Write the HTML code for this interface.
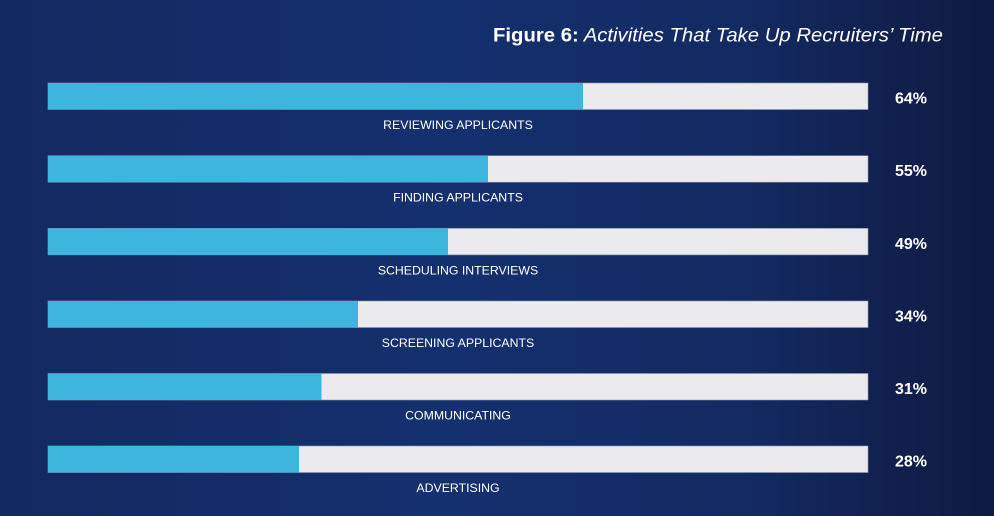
<!DOCTYPE html>
<html>
<head>
<meta charset="utf-8">
<style>
html,body{margin:0;padding:0;}
body{width:994px;height:516px;overflow:hidden;}
svg{display:block;}
</style>
</head>
<body>
<svg width="994" height="516" viewBox="0 0 994 516" xmlns="http://www.w3.org/2000/svg">
<defs>
<linearGradient id="bg" x1="0" y1="0" x2="1" y2="0">
<stop offset="0" stop-color="#132961"/>
<stop offset="0.45" stop-color="#15306f"/>
<stop offset="0.75" stop-color="#132a62"/>
<stop offset="1" stop-color="#0f1a40"/>
</linearGradient>
</defs>
<rect width="994" height="516" fill="url(#bg)"/>
<text x="943" y="41.5" text-anchor="end" textLength="450" lengthAdjust="spacingAndGlyphs" font-family="Liberation Sans, sans-serif" font-size="19" fill="#ffffff"><tspan font-weight="bold">Figure 6:</tspan><tspan font-style="italic"> Activities That Take Up Recruiters’ Time</tspan></text>

<g font-family="Liberation Sans, sans-serif">
<!-- bar 1 -->
<rect x="48" y="83" width="820" height="26.5" fill="#ebebee" stroke="#8a98b8" stroke-width="0.6"/>
<rect x="48" y="83" width="535" height="26.5" fill="#3db5dc"/>
<text x="458" y="129" text-anchor="middle" font-size="12.3" fill="#ffffff">REVIEWING APPLICANTS</text>
<text x="895" y="103.5" font-size="16" font-weight="bold" fill="#ffffff">64%</text>

<!-- bar 2 -->
<rect x="48" y="155.7" width="820" height="26.5" fill="#ebebee" stroke="#8a98b8" stroke-width="0.6"/>
<rect x="48" y="155.7" width="440" height="26.5" fill="#3db5dc"/>
<text x="458" y="201.7" text-anchor="middle" font-size="12.3" fill="#ffffff">FINDING APPLICANTS</text>
<text x="895" y="176.2" font-size="16" font-weight="bold" fill="#ffffff">55%</text>

<!-- bar 3 -->
<rect x="48" y="228.4" width="820" height="26.5" fill="#ebebee" stroke="#8a98b8" stroke-width="0.6"/>
<rect x="48" y="228.4" width="400" height="26.5" fill="#3db5dc"/>
<text x="458" y="274.4" text-anchor="middle" font-size="12.3" fill="#ffffff">SCHEDULING INTERVIEWS</text>
<text x="895" y="248.9" font-size="16" font-weight="bold" fill="#ffffff">49%</text>

<!-- bar 4 -->
<rect x="48" y="301" width="820" height="26.5" fill="#ebebee" stroke="#8a98b8" stroke-width="0.6"/>
<rect x="48" y="301" width="310" height="26.5" fill="#3db5dc"/>
<text x="458" y="347" text-anchor="middle" font-size="12.3" fill="#ffffff">SCREENING APPLICANTS</text>
<text x="895" y="321.5" font-size="16" font-weight="bold" fill="#ffffff">34%</text>

<!-- bar 5 -->
<rect x="48" y="373.5" width="820" height="26.5" fill="#ebebee" stroke="#8a98b8" stroke-width="0.6"/>
<rect x="48" y="373.5" width="273.5" height="26.5" fill="#3db5dc"/>
<text x="458" y="419.5" text-anchor="middle" font-size="12.3" fill="#ffffff">COMMUNICATING</text>
<text x="895" y="394" font-size="16" font-weight="bold" fill="#ffffff">31%</text>

<!-- bar 6 -->
<rect x="48" y="446" width="820" height="26.5" fill="#ebebee" stroke="#8a98b8" stroke-width="0.6"/>
<rect x="48" y="446" width="251" height="26.5" fill="#3db5dc"/>
<text x="458" y="492" text-anchor="middle" font-size="12.3" fill="#ffffff">ADVERTISING</text>
<text x="895" y="466.5" font-size="16" font-weight="bold" fill="#ffffff">28%</text>
</g>
</svg>
</body>
</html>
